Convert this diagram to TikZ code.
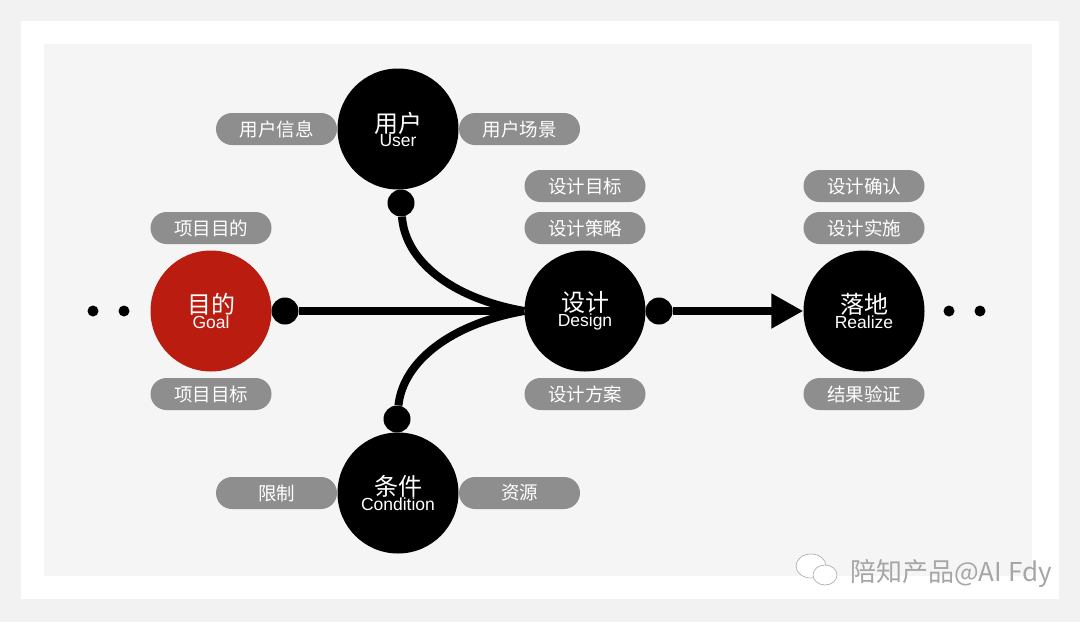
\documentclass[tikz,border=0pt]{standalone}
\usepackage{fontspec}
\setmainfont{Liberation Sans}
\newfontfamily\cjk{Noto Sans CJK SC}
\usetikzlibrary{arrows.meta,positioning}
\definecolor{pillgray}{HTML}{8E8E8E}
\definecolor{goalred}{HTML}{BA1C0F}
\definecolor{pagegray}{HTML}{F2F2F2}
\definecolor{innergray}{HTML}{F5F5F5}
\tikzset{hub/.style={circle,fill=black,text=white,minimum size=121pt,inner sep=0pt,align=center}}
\tikzset{pill/.style={rounded corners=16pt,fill=pillgray,text=white,minimum width=121pt,minimum height=32pt,inner sep=0pt,font=\fontsize{18.5}{20}\selectfont\cjk}}
\tikzset{knob/.style={circle,fill=black,minimum size=27pt,inner sep=0pt}}
\tikzset{tinydot/.style={circle,fill=black,minimum size=11pt,inner sep=0pt}}
\tikzset{flow/.style={line width=8pt}}
\newcommand{\hubtext}[2]{{\fontsize{24}{31}\selectfont\cjk #1}\\[-1pt]{\fontsize{17.5}{20}\selectfont #2}}

\begin{document}
\begin{tikzpicture}[x=1pt,y=-1pt]
  \fill[pagegray] (0,0) rectangle (1080,622);
  \fill[white] (21,21) rectangle (1059,599);
  \fill[innergray] (44,44) rectangle (1032,576);
  \useasboundingbox (0,0) rectangle (1080,622);

  \node[hub,fill=goalred] (goal) at (211,311) {\hubtext{目的}{Goal}};
  \node[hub] (user) at (398,129) {\hubtext{用户}{User}};
  \node[hub] (design) at (585,311) {\hubtext{设计}{Design}};
  \node[hub] (realize) at (864,311) {\hubtext{落地}{Realize}};
  \node[hub] (condition) at (398,493) {\hubtext{条件}{Condition}};

  \node[knob] (goalknob) at (285,311) {};
  \node[knob] (designknob) at (659,311) {};
  \node[knob] (userknob) at (401,203) {};
  \node[knob] (conditionknob) at (397,419) {};

  \draw[flow] (goalknob) -- (design.west);
  \draw[flow] (userknob) .. controls (405,260) and (450,298) .. (design.west);
  \draw[flow] (conditionknob) .. controls (403,362) and (450,324) .. (design.west);
  \draw[flow,-{Triangle[length=32pt,width=33pt]}] (designknob) -- (realize.west);

  \node[tinydot] (lefta) at (93,311) {};
  \node[tinydot] (leftb) at (124,311) {};
  \node[tinydot] (righta) at (949,311) {};
  \node[tinydot] (rightb) at (980,311) {};

  \node[pill] (userinfo) at (276.5,129) {用户信息};
  \node[pill] (userscene) at (519.5,129) {用户场景};
  \node[pill] (goalpurpose) at (211,228) {项目目的};
  \node[pill] (goaltarget) at (211,394) {项目目标};
  \node[pill] (designtarget) at (585,186) {设计目标};
  \node[pill] (designstrategy) at (585,228) {设计策略};
  \node[pill] (designplan) at (585,394) {设计方案};
  \node[pill] (realizecheck) at (864,186) {设计确认};
  \node[pill] (realizedo) at (864,228) {设计实施};
  \node[pill] (realizeproof) at (864,394) {结果验证};
  \node[pill] (limits) at (276.5,493) {限制};
  \node[pill] (resources) at (519.5,493) {资源};

  % watermark
  \draw[gray!70,fill=white,line width=.6pt] (811,566) ellipse (15 and 12);
  \draw[gray!70,fill=white,line width=.6pt] (825,575) ellipse (12 and 10);
  \node[anchor=west,inner sep=0pt,text=gray!70,font=\fontsize{26}{28}\selectfont\cjk] (markb) at (850,574) {陪知产品@AI Fdy};
\end{tikzpicture}
\end{document}
